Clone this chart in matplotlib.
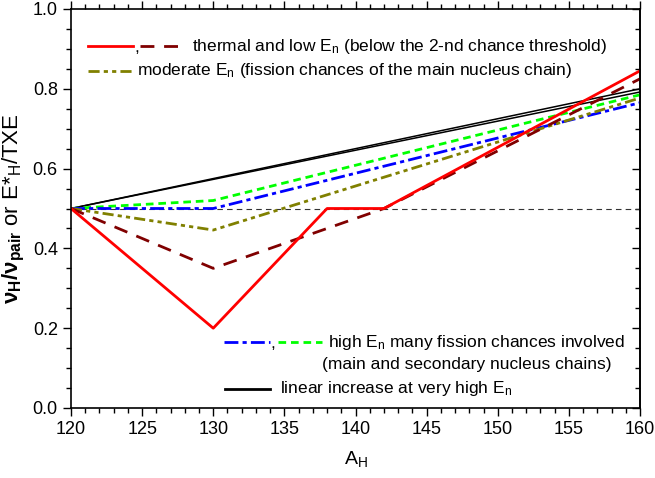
import matplotlib
matplotlib.use('Agg')
import matplotlib.pyplot as plt
from matplotlib.lines import Line2D
from matplotlib.ticker import MultipleLocator

plt.rcParams['font.family'] = ['Liberation Sans', 'DejaVu Sans']
plt.rcParams['mathtext.fontset'] = 'custom'
plt.rcParams['mathtext.rm'] = 'Liberation Sans'
plt.rcParams['mathtext.it'] = 'Liberation Sans'
plt.rcParams['mathtext.bf'] = 'Liberation Sans:bold'
plt.rcParams['lines.scale_dashes'] = False

# heavy fragment mass number and the ratio nu_H/nu_pair (or E*_H/TXE)
a_thermal = [120, 130, 138, 142, 160]
r_thermal = [0.5, 0.2, 0.5, 0.5, 0.845]
a_low = [120, 130, 142, 160]
r_low = [0.5, 0.35, 0.5, 0.825]
a_moderate = [120, 130, 160]
r_moderate = [0.5, 0.446, 0.777]
a_high_main = [120, 130, 160]
r_high_main = [0.5, 0.5, 0.765]
a_high_sec = [120, 130, 160]
r_high_sec = [0.5, 0.52, 0.785]
a_linear = [120, 160]
r_linear_1 = [0.5, 0.800]
r_linear_2 = [0.5, 0.792]
ref_level = 0.5

fig = plt.figure(figsize=(6.55, 4.78), dpi=100)
ax = fig.add_axes([71 / 655, 70 / 478, 569 / 655, 399 / 478])

lw = 2.0
ax.axhline(ref_level, color='#333333', lw=0.8, dashes=(4, 3))
ax.plot(a_linear, r_linear_1, color='black', lw=1.1)
ax.plot(a_linear, r_linear_2, color='black', lw=1.1)
ax.plot(a_high_sec, r_high_sec, color='#00ff00', lw=lw, dashes=(5.5, 3.5))
ax.plot(a_high_main, r_high_main, color='#0000ff', lw=lw, dashes=(10, 3, 3, 3))
ax.plot(a_moderate, r_moderate, color='#808000', lw=lw, dashes=(8, 3, 3, 3, 3, 3))
ax.plot(a_low, r_low, color='#800000', lw=lw, dashes=(10, 7))
ax.plot(a_thermal, r_thermal, color='#ff0000', lw=lw)

ax.set_xlim(120, 160)
ax.set_ylim(0, 1.0)
ax.xaxis.set_major_locator(MultipleLocator(5))
ax.xaxis.set_minor_locator(MultipleLocator(1))
ax.yaxis.set_major_locator(MultipleLocator(0.2))
ax.yaxis.set_minor_locator(MultipleLocator(0.05))
ax.yaxis.set_major_formatter(matplotlib.ticker.FormatStrFormatter('%.1f'))

ax.tick_params(which='both', direction='out', top=True, right=False,
               labelsize=13, width=1.0)
ax.tick_params(which='major', length=6)
ax.tick_params(which='minor', length=3.5)
for s in ax.spines.values():
    s.set_linewidth(1.2)

# ticks on the right spine point inward
sec = ax.secondary_yaxis('right')
sec.yaxis.set_major_locator(MultipleLocator(0.2))
sec.yaxis.set_minor_locator(MultipleLocator(0.05))
sec.tick_params(which='both', direction='in', labelright=False, width=1.0)
sec.tick_params(which='major', length=6)
sec.tick_params(which='minor', length=3.5)
sec.spines['right'].set_linewidth(1.2)

ax.set_xlabel(r'A$_\mathregular{H}$', fontsize=14, labelpad=8)
ax.set_ylabel(r'$\mathbf{ν_H/ν_{pair}}$ or E*$_\mathregular{H}$/TXE', fontsize=16, labelpad=4)


def fx(px):
    return (px - 71) / 569


def fy(py):
    return (408 - py) / 399


def sample(x0, x1, y, **kw):
    ax.add_line(Line2D([fx(x0), fx(x1)], [fy(y), fy(y)], transform=ax.transAxes, **kw))


fs = 12.5
# key: thermal / low energy
sample(88, 133, 46, color='#ff0000', lw=lw)
ax.text(fx(134), fy(47), ',', transform=ax.transAxes, fontsize=fs, va='center')
sample(140, 185, 46, color='#800000', lw=lw, dashes=(10, 7))
ax.text(fx(192), fy(46), r'thermal and low E$_\mathregular{n}$ (below the 2-nd chance threshold)',
        transform=ax.transAxes, fontsize=fs, va='center')
# key: moderate energy
sample(88, 135, 71, color='#808000', lw=lw, dashes=(8, 3, 3, 3, 3, 3))
ax.text(fx(137), fy(71), r'moderate E$_\mathregular{n}$ (fission chances of the main nucleus chain)',
        transform=ax.transAxes, fontsize=fs, va='center')
# key: high energy
sample(224, 270, 342, color='#0000ff', lw=lw, dashes=(10, 3, 3, 3))
ax.text(fx(270), fy(343), ',', transform=ax.transAxes, fontsize=fs, va='center')
sample(278, 322, 342, color='#00ff00', lw=lw, dashes=(5.5, 3.5))
ax.text(fx(328), fy(342), r'high E$_\mathregular{n}$ many fission chances involved',
        transform=ax.transAxes, fontsize=fs, va='center')
ax.text(fx(322), fy(364), '(main and secondary nucleus chains)',
        transform=ax.transAxes, fontsize=fs, va='center')
# key: linear increase
sample(225, 270, 389, color='black', lw=lw)
ax.text(fx(280), fy(389), r'linear increase at very high E$_\mathregular{n}$',
        transform=ax.transAxes, fontsize=fs, va='center')

fig.savefig('out.png', dpi=100)
